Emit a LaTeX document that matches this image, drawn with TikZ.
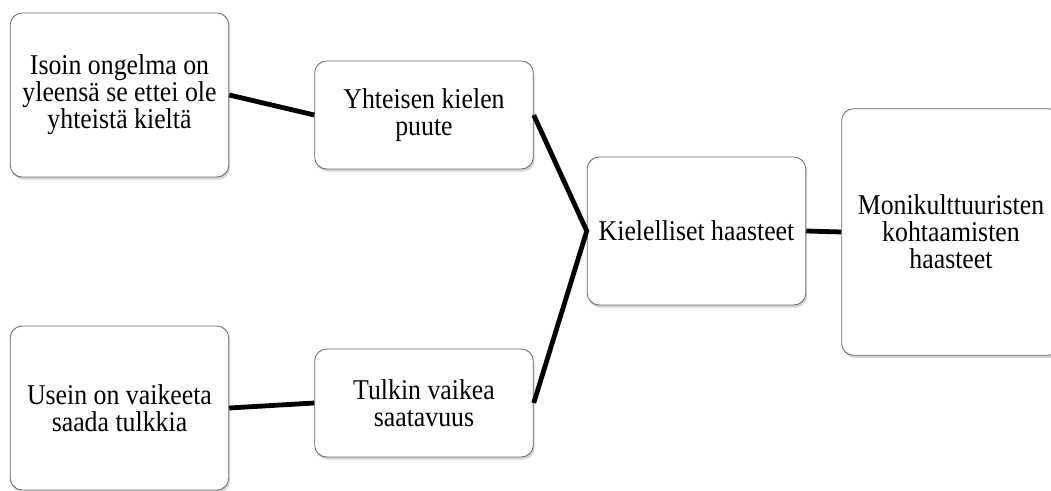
\documentclass[tikz,border=0pt]{standalone}
\usepackage{fontspec}
\setmainfont{Liberation Serif}[FakeStretch=0.9]
\usepackage{tikz}
\usetikzlibrary{shadows}

\begin{document}
\begin{tikzpicture}[
			x=0.75pt, y=-0.75pt,
			box/.style={draw=black!60, line width=0.6pt, fill=white, rounded corners=9pt,
				drop shadow={opacity=0.35, shadow xshift=1pt, shadow yshift=-2pt},
				align=center, font=\fontsize{21.5}{20.2}\selectfont,
				minimum width=164pt},
			small/.style={box, minimum height=81pt},
			tall/.style={box, minimum height=123pt},
			link/.style={line width=3.6pt, black, line join=miter}
			]
			\useasboundingbox (0,0) rectangle (1051,490);
			% Vasen sarake
			\node[tall] (iso) at (119.5,95) {Isoin ongelma on\\yleensä se ettei ole\\yhteistä kieltä};
			\node[tall] (usein) at (119.5,408) {Usein on vaikeeta\\saada tulkkia};
			% Keskimmäinen sarake
			\node[small] (puute) at (424,115) {Yhteisen kielen\\puute};
			\node[small] (tulkki) at (424,403) {Tulkin vaikea\\saatavuus};
			% Oikea puoli
			\node[box, minimum height=111pt] (kieli) at (696.5,231) {Kielelliset haasteet};
			\node[box, minimum height=185pt] (moni) at (951,232) {Monikulttuuristen\\kohtaamisten\\haasteet};
			% Yhteydet
			\draw[link] (iso.east) -- (puute.west);
			\draw[link] (usein.east) -- (tulkki.west);
			\draw[link] (puute.east) -- (kieli.west) -- (tulkki.east);
			\draw[link] (kieli.east) -- (moni.west);
		\end{tikzpicture}
\end{document}
